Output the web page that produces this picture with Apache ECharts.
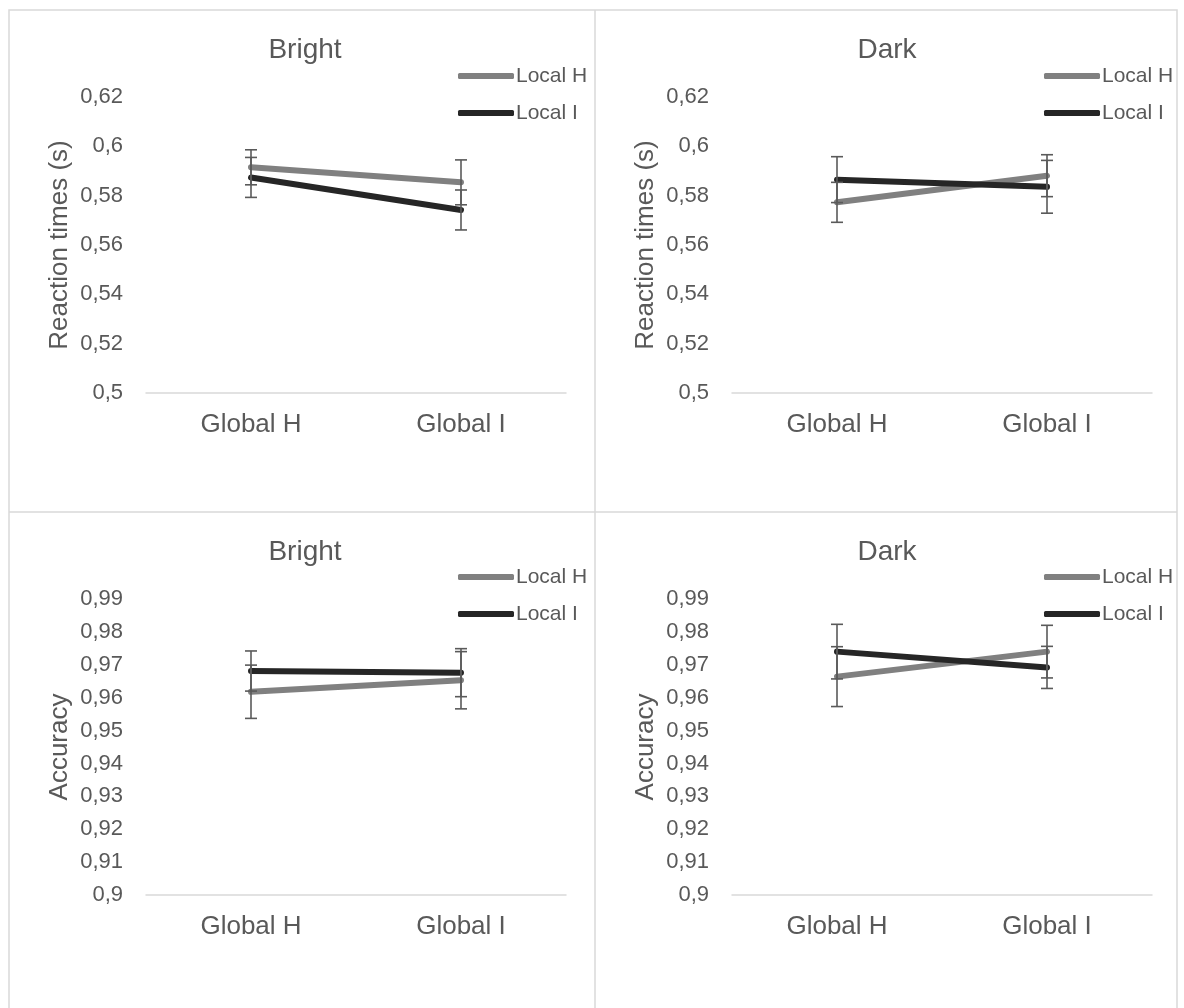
<!DOCTYPE html>
<html>
<head>
<meta charset="utf-8">
<script src="https://cdn.jsdelivr.net/npm/echarts@6/dist/echarts.min.js"></script>
<style>
html,body{margin:0;padding:0;background:#fff;}
#chart{width:1184px;height:1008px;}
</style>
</head>
<body>
<div id="chart"></div>
<script>
// ---- data ----
const categories = ['Global H', 'Global I'];
const seriesNames = ['Local H', 'Local I'];
const panelTitles = ['Bright', 'Dark', 'Bright', 'Dark'];
const yAxisNames = ['Reaction times (s)', 'Reaction times (s)', 'Accuracy', 'Accuracy'];

const rtBrightH = [0.5915, 0.5854];
const rtBrightI = [0.5874, 0.5742];
const rtBrightHErr = [0.0071, 0.0091];
const rtBrightIErr = [0.0081, 0.0081];

const rtDarkH = [0.5773, 0.5881];
const rtDarkI = [0.5865, 0.5836];
const rtDarkHErr = [0.0081, 0.0085];
const rtDarkIErr = [0.0093, 0.0107];

const accBrightH = [0.9618, 0.9653];
const accBrightI = [0.9681, 0.9676];
const accBrightHErr = [0.0081, 0.0087];
const accBrightIErr = [0.0061, 0.0073];

const accDarkH = [0.9664, 0.9740];
const accDarkI = [0.9740, 0.9692];
const accDarkHErr = [0.0091, 0.0080];
const accDarkIErr = [0.0083, 0.0064];

const rtAxis = { min: 0.5, max: 0.62, interval: 0.02 };
const accAxis = { min: 0.9, max: 0.99, interval: 0.01 };

// ---- layout / style ----
const GRAY = '#808080', BLACK = '#262626', TXT = '#595959', BORDER = '#d9d9d9', ERR = '#5a5a5a';
const FONT = '"Liberation Sans", Arial, sans-serif';

const panels = [
  { left: 146, top: 97, titleX: 300, titleY: 31, legX: 458, legY: 64, H: rtBrightH, I: rtBrightI, He: rtBrightHErr, Ie: rtBrightIErr, axis: rtAxis },
  { left: 732, top: 97, titleX: 882, titleY: 31, legX: 1044, legY: 64, H: rtDarkH, I: rtDarkI, He: rtDarkHErr, Ie: rtDarkIErr, axis: rtAxis },
  { left: 146, top: 599, titleX: 300, titleY: 533, legX: 458, legY: 565, H: accBrightH, I: accBrightI, He: accBrightHErr, Ie: accBrightIErr, axis: accAxis },
  { left: 732, top: 599, titleX: 882, titleY: 533, legX: 1044, legY: 565, H: accDarkH, I: accDarkI, He: accDarkHErr, Ie: accDarkIErr, axis: accAxis }
];

function fmt(v) { return String(+v.toFixed(2)).replace('.', ','); }

function errSeries(name, idx, vals, errs) {
  return {
    type: 'custom', name: name + ' err', xAxisIndex: idx, yAxisIndex: idx, z: 5,
    silent: true,
    data: vals.map((v, i) => [i, v, errs[i]]),
    renderItem: function (params, api) {
      const x = api.value(0), m = api.value(1), e = api.value(2);
      const hi = api.coord([x, m + e]);
      const lo = api.coord([x, m - e]);
      const hw = 6;
      const st = { stroke: ERR, lineWidth: 1.6 };
      return {
        type: 'group',
        children: [
          { type: 'line', shape: { x1: hi[0], y1: hi[1], x2: lo[0], y2: lo[1] }, style: st },
          { type: 'line', shape: { x1: hi[0] - hw, y1: hi[1], x2: hi[0] + hw, y2: hi[1] }, style: st },
          { type: 'line', shape: { x1: lo[0] - hw, y1: lo[1], x2: lo[0] + hw, y2: lo[1] }, style: st }
        ]
      };
    }
  };
}

const grid = [], xAxis = [], yAxis = [], series = [], title = [], legend = [];
panels.forEach((p, k) => {
  grid.push({ left: p.left, top: p.top, width: 420, height: 296 });
  xAxis.push({
    type: 'category', gridIndex: k, data: categories, boundaryGap: true,
    axisLine: { lineStyle: { color: BORDER, width: 1.5 } },
    axisTick: { show: false },
    axisLabel: { color: TXT, fontSize: 26, fontFamily: FONT, margin: 19 },
    splitLine: { show: false }
  });
  yAxis.push({
    type: 'value', gridIndex: k, min: p.axis.min, max: p.axis.max, interval: p.axis.interval,
    name: yAxisNames[k], nameLocation: 'middle', nameGap: 73, nameRotate: 90,
    nameTextStyle: { color: TXT, fontSize: 26, fontFamily: FONT },
    axisLine: { show: false }, axisTick: { show: false }, splitLine: { show: false },
    axisLabel: { color: TXT, fontSize: 22, fontFamily: FONT, margin: 23, formatter: fmt }
  });
  title.push({
    text: panelTitles[k], left: p.titleX, top: p.titleY, textAlign: 'center',
    textStyle: { color: TXT, fontSize: 28, fontWeight: 'normal', fontFamily: FONT }
  });
  legend.push({
    orient: 'vertical', left: p.legX, top: p.legY, data: seriesNames,
    icon: 'roundRect', itemWidth: 56, itemHeight: 6, itemGap: 13, padding: 0,
    selectedMode: false,
    textStyle: { color: TXT, fontSize: 21, fontFamily: FONT, padding: [0, 0, 0, -3], lineHeight: 24 }
  });
  series.push({
    type: 'line', name: seriesNames[0], xAxisIndex: k, yAxisIndex: k, data: p.H,
    symbol: 'none', lineStyle: { color: GRAY, width: 6, cap: 'round' }, itemStyle: { color: GRAY }, z: 2
  });
  series.push({
    type: 'line', name: seriesNames[1], xAxisIndex: k, yAxisIndex: k, data: p.I,
    symbol: 'none', lineStyle: { color: BLACK, width: 6, cap: 'round' }, itemStyle: { color: BLACK }, z: 3
  });
  series.push(errSeries(seriesNames[0], k, p.H, p.He));
  series.push(errSeries(seriesNames[1], k, p.I, p.Ie));
});

const bst = { stroke: BORDER, lineWidth: 1.5 };
const graphic = [
  { type: 'rect', shape: { x: 9, y: 10, width: 1168, height: 1010 }, style: { fill: null, stroke: BORDER, lineWidth: 1.5 }, silent: true, z: -1 },
  { type: 'line', shape: { x1: 595, y1: 10, x2: 595, y2: 1010 }, style: bst, silent: true, z: -1 },
  { type: 'line', shape: { x1: 9, y1: 512, x2: 1177, y2: 512 }, style: bst, silent: true, z: -1 }
];

const chart = echarts.init(document.getElementById('chart'), null, { renderer: 'canvas' });
chart.setOption({
  backgroundColor: '#fff',
  animation: false,
  title, legend, grid, xAxis, yAxis, series, graphic
});
</script>
</body>
</html>
